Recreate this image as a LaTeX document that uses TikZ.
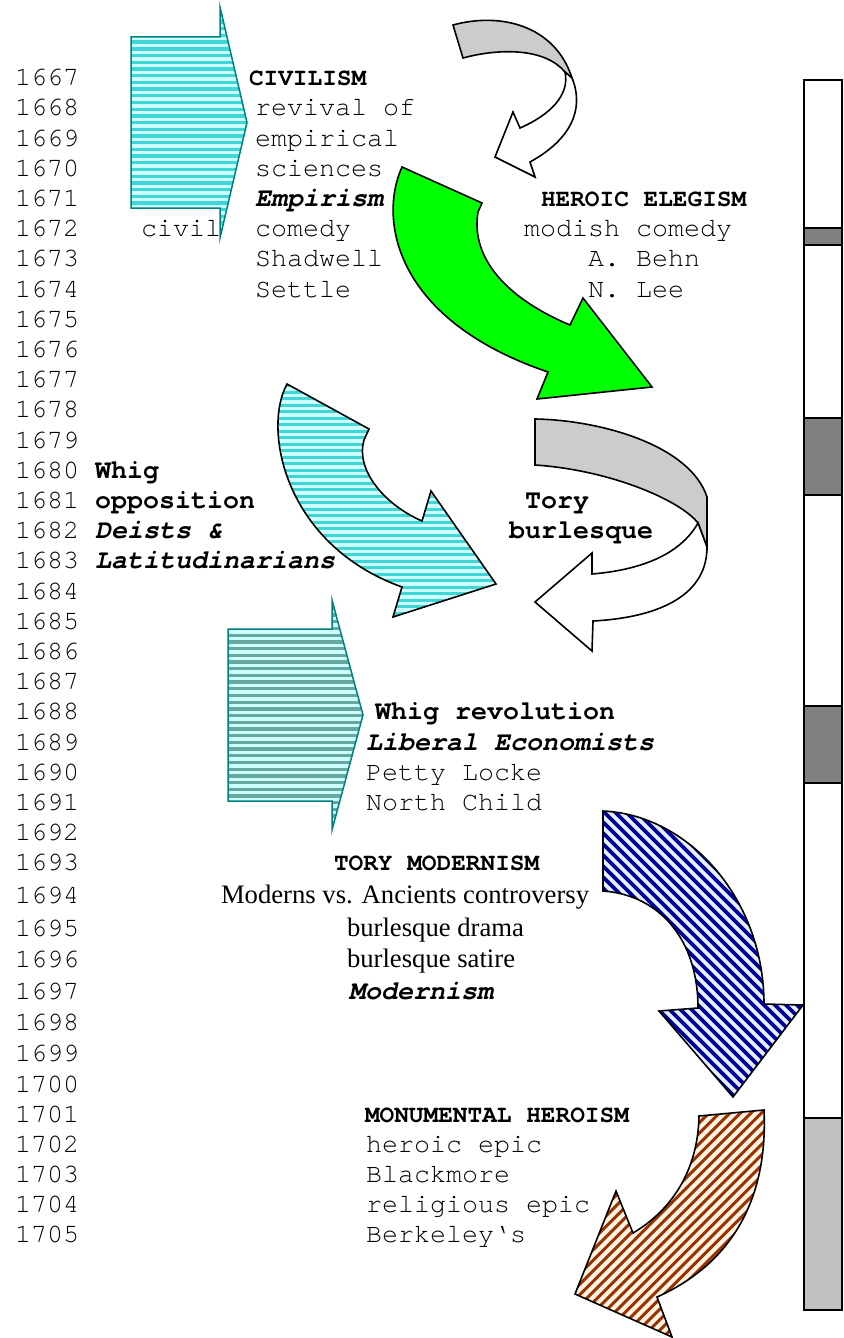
\documentclass[tikz,border=0pt]{standalone}
\usepackage{fontspec}
\newfontfamily\monofam{texgyrecursor}[Extension=.otf, UprightFont=*-regular, BoldFont=*-bold, ItalicFont=*-italic, BoldItalicFont=*-bolditalic]
\newfontfamily\seriffam{Liberation Serif}
\newcommand\ftxt{\monofam\fontsize{26.67}{30}\selectfont}
\newcommand\fhead{\monofam\bfseries\fontsize{24.44}{28}\selectfont}
\newcommand\fbold{\monofam\bfseries\fontsize{26.67}{30}\selectfont}
\newcommand\fbit{\monofam\bfseries\itshape\fontsize{26.67}{30}\selectfont}
\newcommand\ftimes{\seriffam\fontsize{26.67}{30}\selectfont}

\definecolor{tealline}{RGB}{0,128,128}
\definecolor{cyanstripe}{RGB}{64,214,214}
\definecolor{cyanlight}{RGB}{204,255,255}
\definecolor{tealstripe}{RGB}{102,168,158}
\definecolor{bluestripe}{RGB}{0,0,153}
\definecolor{bluelight}{RGB}{228,240,255}
\definecolor{brownstripe}{RGB}{153,51,0}
\definecolor{brownlight}{RGB}{255,244,228}
\definecolor{ribbongrey}{RGB}{204,204,204}
\definecolor{bardark}{RGB}{128,128,128}
\definecolor{barlight}{RGB}{192,192,192}

\tikzset{
  lbl/.style={anchor=base west, inner sep=0pt, outer sep=0pt},
  yr/.style={lbl, font=\ftxt},
  plain/.style={lbl, font=\ftxt},
  head/.style={lbl, font=\fhead},
  bold/.style={lbl, font=\fbold},
  bital/.style={lbl, font=\fbit},
  roman/.style={lbl, font=\ftimes},
  outline/.style={draw=black, line width=1.6pt, line join=miter},
  tealoutline/.style={draw=tealline, line width=1.5pt, line join=miter},
  barseg/.style={draw=black, line width=1.5pt},
}

% arrow outlines
\def\civpath{(131,37) -- (220,37) -- (220,7) -- (247,122.5) -- (220,238) -- (220,208) -- (131,208) -- cycle}
\def\revpath{(228,629) -- (332,629) -- (332,600) -- (363,715) -- (332,830) -- (332,801) -- (228,801) -- cycle}
\def\greenpath{(402,167) .. controls (378,220) and (395,320) .. (548,372) -- (537,399) -- (652,387) -- (583,298) -- (570,325) .. controls (510,300) and (470,260) .. (478,212) -- (482,203) -- cycle}
\def\deistpath{(287,384) .. controls (262,430) and (285,545) .. (402,587) -- (393,617) -- (496,584) -- (431,491) -- (422,521) .. controls (385,505) and (355,470) .. (364,440) -- (369,429) -- cycle}
\def\bluepath{(603,811) .. controls (690,815) and (764,900) .. (764,1004) -- (803,1005) -- (733,1097) -- (659,1011) -- (698,1008) .. controls (698,940) and (660,895) .. (603,891) -- cycle}
\def\brownpath{(699,1116) -- (764,1110) .. controls (768,1195) and (735,1262) .. (657,1297) -- (672,1337) -- (575,1294) -- (616,1191) -- (633,1233) .. controls (672,1210) and (698,1170) .. (699,1116) -- cycle}
\def\topgrey{(453,25) .. controls (500,12) and (555,25) .. (572,78) -- (565,72) .. controls (545,48) and (500,48) .. (463,58) -- cycle}
\def\topwhite{(565,72) .. controls (570,95) and (550,115) .. (520,128) -- (513,112) -- (495,157) -- (535,177) -- (530,162) .. controls (570,140) and (585,110) .. (572,78) -- cycle}
\def\lowgrey{(535,419) .. controls (600,420) and (690,445) .. (707,497) -- (707,547) -- (698,523) .. controls (680,500) and (610,470) .. (535,465) -- cycle}
\def\lowwhite{(698,523) .. controls (680,555) and (640,570) .. (592,574) -- (592,553) -- (535,602) -- (592,651) -- (593,621) .. controls (650,618) and (707,600) .. (707,547) -- cycle}

\begin{document}
\begin{tikzpicture}[x=1pt, y=-1pt]
\useasboundingbox (0,0) rectangle (843,1338);
\fill[white] (0,0) rectangle (843,1338);

% timeline bar on the right
\draw[barseg, fill=white] (804,80) rectangle (842,1310);
\draw[barseg, fill=bardark] (804,228) rectangle (842,245);
\draw[barseg, fill=bardark] (804,418) rectangle (842,495);
\draw[barseg, fill=bardark] (804,706) rectangle (842,783);
\draw[barseg, fill=barlight] (804,1118) rectangle (842,1310);

% civilism block arrow
\begin{scope}
  \clip \civpath;
  \fill[cyanlight] (125,0) rectangle (250,245);
  \foreach \k in {0,...,35} \fill[cyanstripe] (125,{7+\k*6.7}) rectangle (250,{7+\k*6.7+3.35});
\end{scope}
\draw[tealoutline] \civpath;

% whig revolution block arrow
\begin{scope}
  \clip \revpath;
  \fill[cyanlight] (220,595) rectangle (370,835);
  \foreach \k in {0,...,35} \fill[tealstripe] (220,{600+\k*6.7}) rectangle (370,{600+\k*6.7+3.35});
\end{scope}
\draw[tealoutline] \revpath;

% twisted ribbon arrow, top
\draw[outline, fill=ribbongrey] \topgrey;
\draw[outline, fill=white] \topwhite;

% green arrow
\draw[outline, fill=green] \greenpath;

% deists arrow
\begin{scope}
  \clip \deistpath;
  \fill[cyanlight] (255,375) rectangle (505,625);
  \foreach \k in {0,...,37} \fill[cyanstripe] (255,{384+\k*6.5}) rectangle (505,{384+\k*6.5+3.25});
\end{scope}
\draw[outline] \deistpath;

% twisted ribbon arrow, lower
\draw[outline, fill=ribbongrey] \lowgrey;
\draw[outline, fill=white] \lowwhite;

% modernism arrow
\begin{scope}
  \clip \bluepath;
  \fill[bluelight] (595,805) rectangle (810,1105);
  \foreach \k in {0,...,50} \draw[bluestripe, line width=3.8pt] ({-505+\k*11+800},800) -- ({-505+\k*11+1110},1110);
\end{scope}
\draw[outline] \bluepath;

% monumental heroism arrow
\begin{scope}
  \clip \brownpath;
  \fill[brownlight] (570,1105) rectangle (775,1340);
  \foreach \k in {0,...,42} \draw[brownstripe, line width=3pt] ({1675+\k*10.5-1100},1100) -- ({1675+\k*10.5-1345},1345);
\end{scope}
\draw[outline] \brownpath;

% year column
\foreach \i in {0,...,25} {
  \pgfmathtruncatemacro\yy{1667+\i}
  \node[yr] (y\yy) at (15,{85.6+30.2*\i}) {\yy};
}
\foreach \yy/\b in {1693/870,1694/903,1695/936,1696/967,1697/999,1698/1030,1699/1061,1700/1092,1701/1122,1702/1152,1703/1182,1704/1212,1705/1242}
  \node[yr] (y\yy) at (15,\b) {\yy};

% civilism
\node[head]  (civ)   at (249,85.6)  {CIVILISM};
\node[plain] (civa)  at (255,115.8) {revival of};
\node[plain] (civb)  at (255,146.0) {empirical};
\node[plain] (civc)  at (255,176.2) {sciences};
\node[bital] (civd)  at (255,206.4) {Empirism};
\node[plain] (cive)  at (141,236.6) {civil};
\node[plain] (civf)  at (255,236.6) {comedy};
\node[plain] (civg)  at (255,266.8) {Shadwell};
\node[plain] (civh)  at (255,297.0) {Settle};

% heroic elegism
\node[head]  (her)   at (541,206.4) {HEROIC ELEGISM};
\node[plain] (hera)  at (524,236.6) {modish comedy};
\node[plain] (herb)  at (588,266.8) {A. Behn};
\node[plain] (herc)  at (588,297.0) {N. Lee};

% whig opposition
\node[bold]  (whg)   at (95,478.2)  {Whig};
\node[bold]  (whga)  at (95,508.4)  {opposition};
\node[bital] (whgb)  at (95,538.6)  {Deists \&};
\node[bital] (whgc)  at (95,568.8)  {Latitudinarians};

% tory burlesque
\node[bold]  (tor)   at (525,508.4) {Tory};
\node[bold]  (tora)  at (509,538.6) {burlesque};

% whig revolution
\node[bold]  (rev)   at (375,719.8) {Whig revolution};
\node[bital] (reva)  at (366,750.0) {Liberal Economists};
\node[plain] (revb)  at (366,780.2) {Petty Locke};
\node[plain] (revc)  at (366,810.4) {North Child};

% tory modernism
\node[head]  (mod)   at (334,870)   {TORY MODERNISM};
\node[roman] (moda)  at (221,903)   {Moderns vs. Ancients controversy};
\node[roman] (modb)  at (347,936)   {burlesque drama};
\node[roman] (modc)  at (347,967)   {burlesque satire};
\node[bital] (modd)  at (349,999)   {Modernism};

% monumental heroism
\node[head]  (mon)   at (365,1122)  {MONUMENTAL HEROISM};
\node[plain] (mona)  at (366,1152)  {heroic epic};
\node[plain] (monb)  at (366,1182)  {Blackmore};
\node[plain] (monc)  at (366,1212)  {religious epic};
\node[plain] (mond)  at (366,1242)  {Berkeley‘s};
\end{tikzpicture}
\end{document}
